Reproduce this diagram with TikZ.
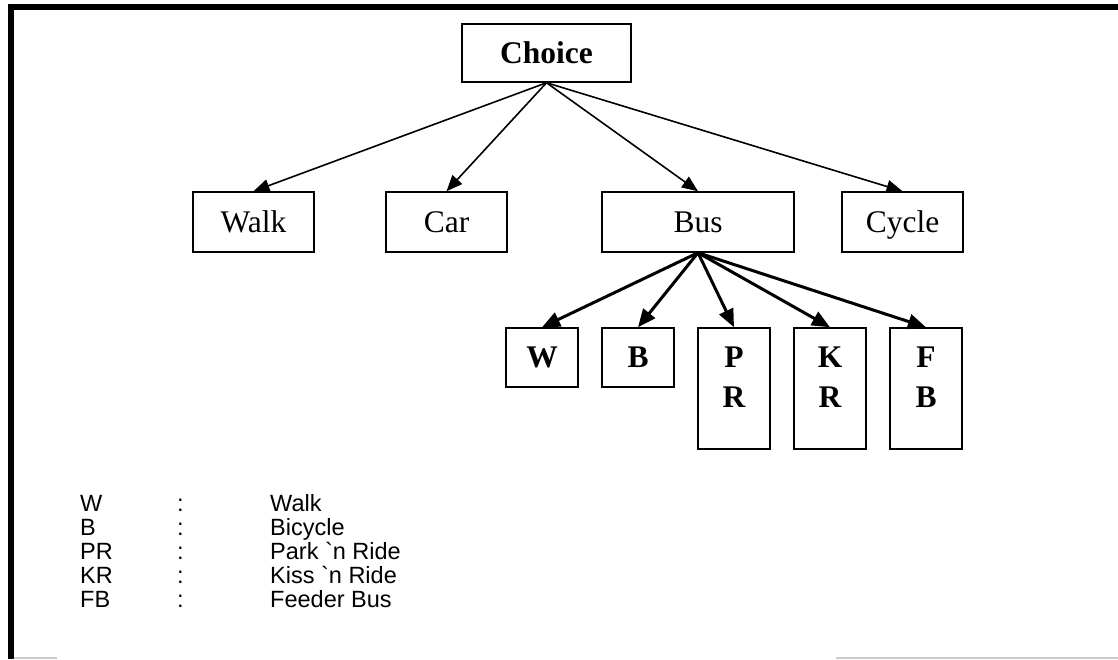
\documentclass[tikz,border=0pt]{standalone}
\usepackage{fontspec}
\setmainfont{Liberation Serif}
\newfontfamily\legendfont{Liberation Sans}[Ligatures=TeXOff]
\usetikzlibrary{arrows.meta}
\tikzset{
  box/.style={draw, line width=1.5pt, inner sep=0pt, minimum height=60pt, text height=20.5pt, text depth=0pt, font=\fontsize{31.5}{36}\selectfont},
  modebox/.style={box, minimum width=121pt},
  subbox/.style={box, minimum width=72pt, minimum height=59pt, align=center, font=\fontsize{31.5}{39.5}\selectfont\bfseries},
  tallbox/.style={subbox, minimum height=121pt, text height=79.25pt, text depth=41.75pt},
  thinarrow/.style={-{Triangle[length=16pt,width=13pt]}, line width=1.6pt},
  thickarrow/.style={-{Triangle[length=18pt,width=15pt]}, line width=3pt},
  legend/.style={anchor=base west, inner sep=0pt, font=\legendfont\fontsize{23.5}{26}\selectfont}
}

\begin{document}
\begin{tikzpicture}[x=1pt,y=-1pt]
\useasboundingbox (0,0) rectangle (1118,659);
\draw[line width=6pt] (11,659) -- (11,7) -- (1118,7);
\draw[black!20, line width=1.5pt] (14,658) -- (57,658);
\draw[black!20, line width=1.5pt] (836,658) -- (1118,658);

\node[box, minimum width=169pt, minimum height=58pt, font=\fontsize{31.5}{36}\selectfont\bfseries] (choice) at (546.5,53) {Choice};
\node[modebox] (walk) at (253.5,222) {Walk};
\node[modebox] (car) at (446.5,222) {Car};
\node[box, minimum width=192pt] (bus) at (698,222) {Bus};
\node[modebox] (cycle) at (902.5,222) {Cycle};

\node[subbox] (w) at (542,357.5) {W};
\node[subbox] (b) at (638,357.5) {B};
\node[tallbox] (pr) at (734,388.5) {P\\R};
\node[tallbox] (kr) at (830,388.5) {K\\R};
\node[tallbox] (fb) at (926,388.5) {F\\B};

\draw[thinarrow] (choice.south) -- (walk.north);
\draw[thinarrow] (choice.south) -- (car.north);
\draw[thinarrow] (choice.south) -- (bus.north);
\draw[thinarrow] (choice.south) -- (cycle.north);

\draw[thickarrow] (bus.south) -- (w.north);
\draw[thickarrow] (bus.south) -- (b.north);
\draw[thickarrow] (bus.south) -- (pr.north);
\draw[thickarrow] (bus.south) -- (kr.north);
\draw[thickarrow] (bus.south) -- (fb.north);

\node[legend] (keyw) at (80,511) {W};
\node[legend] (colw) at (177,511) {:};
\node[legend] (textw) at (270,511) {Walk};
\node[legend] (keyb) at (80,535) {B};
\node[legend] (colb) at (177,535) {:};
\node[legend] (textb) at (270,535) {Bicycle};
\node[legend] (keypr) at (80,559) {PR};
\node[legend] (colpr) at (177,559) {:};
\node[legend] (textpr) at (270,559) {Park `n Ride};
\node[legend] (keykr) at (80,583) {KR};
\node[legend] (colkr) at (177,583) {:};
\node[legend] (textkr) at (270,583) {Kiss `n Ride};
\node[legend] (keyfb) at (80,607) {FB};
\node[legend] (colfb) at (177,607) {:};
\node[legend] (textfb) at (270,607) {Feeder Bus};
\end{tikzpicture}
\end{document}
